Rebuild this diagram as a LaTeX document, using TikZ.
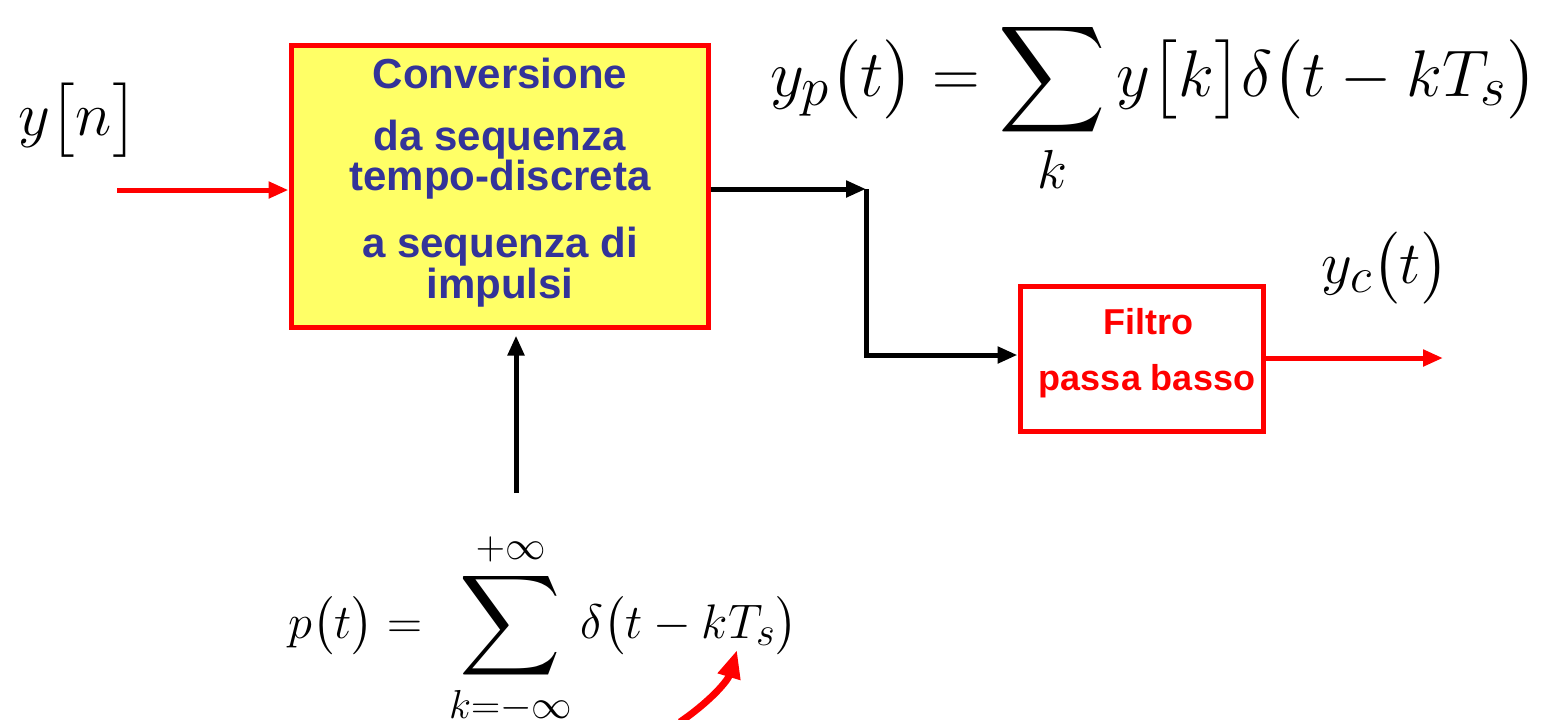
\documentclass[tikz,border=0pt]{standalone}
\usepackage{amsmath}
\usepackage{fontspec}
\newfontfamily\lsans{Liberation Sans}
\usetikzlibrary{arrows.meta}
\definecolor{boxyellow}{RGB}{255,255,102}
\definecolor{txtblue}{RGB}{51,51,153}
\definecolor{lred}{RGB}{255,0,0}
\newcommand\mybigsum[1]{\mathop{\vcenter{\hbox{\scalebox{#1}{$\displaystyle\sum$}}}}\limits}
\begin{document}
\begin{tikzpicture}[x=0.5pt,y=-0.5pt,
  blockbox/.style={draw=lred,line width=2.5pt,inner sep=0pt},
  bluetxt/.style={text=txtblue,font=\lsans\bfseries\fontsize{21}{25}\selectfont,inner sep=0pt},
  redtxt/.style={text=lred,font=\lsans\bfseries\fontsize{18}{22}\selectfont,inner sep=0pt},
  blkarrow/.style={draw=black,line width=2.5pt,-{Triangle[length=10pt,width=8pt]}},
  redarrow/.style={draw=lred,line width=2.5pt,-{Triangle[length=10pt,width=8pt]}},
  mathtxt/.style={inner sep=0pt,font=\fontsize{24.88}{30}\selectfont}]
\useasboundingbox (0,0) rectangle (1556,719);
% blocks
\node[blockbox,fill=boxyellow,minimum width=208.5pt,minimum height=141pt] (conv) at (499.5,186) {};
\node[blockbox,fill=white,minimum width=121.5pt,minimum height=72.5pt] (filt) at (1141.5,358.5) {};
% block texts
\node[bluetxt] (t1) at (500,73) {Conversione};
\node[bluetxt] (t2) at (500,140) {da sequenza};
\node[bluetxt] (t3) at (500,180) {tempo-discreta};
\node[bluetxt] (t4) at (500,247) {a sequenza di};
\node[bluetxt] (t5) at (500,288) {impulsi};
\node[redtxt] (f1) at (1148,322) {Filtro};
\node[redtxt] (f2) at (1147,381) {passa basso};
% math labels
\node[mathtxt] (yn) at (78,120) {\scalebox{1.246}{$y\bigl[n\bigr]$}};
\node[mathtxt] (yc) at (1385,268) {\scalebox{1.206}{$y_{c}\bigl(t\bigr)$}};
\node[mathtxt,anchor=base west] (yp) at (770,96) {\scalebox{1.326}{$\displaystyle y_{p}\bigl(t\bigr)=\mybigsum{1.13}_{k} y\bigl[k\bigr]\delta\bigl(t-kT_{s}\bigr)$}};
\node[mathtxt,anchor=base west] (pt) at (288,638) {\scalebox{0.975}{$\displaystyle p\bigl(t\bigr)=\;\mybigsum{1.45}_{k=-\infty}^{+\infty}\delta\bigl(t-kT_{s}\bigr)$}};
% coordinates
\coordinate (yin) at (117,190);
\coordinate (c1) at (866,189);
\coordinate (c2) at (866,355);
\coordinate (yout) at (1443,358);
\coordinate (pin) at (516,493);
\coordinate (cs) at (680,722);
\coordinate (ce) at (737,650);
% connectors
\draw[redarrow] (yin) -- (conv.west |- yin);
\draw[blkarrow] (conv.east |- c1) -- (c1);
\draw[blkarrow] (c1) -- (c2) -- (filt.west |- c2);
\draw[redarrow] (filt.east |- yout) -- (yout);
\draw[blkarrow,shorten >=3pt] (pin) -- (conv.south -| pin);
\draw[draw=lred,line width=3.5pt,-{Triangle[length=14pt,width=11pt]}] (cs) .. controls (712,700) and (728,680) .. (ce);
\end{tikzpicture}
\end{document}
